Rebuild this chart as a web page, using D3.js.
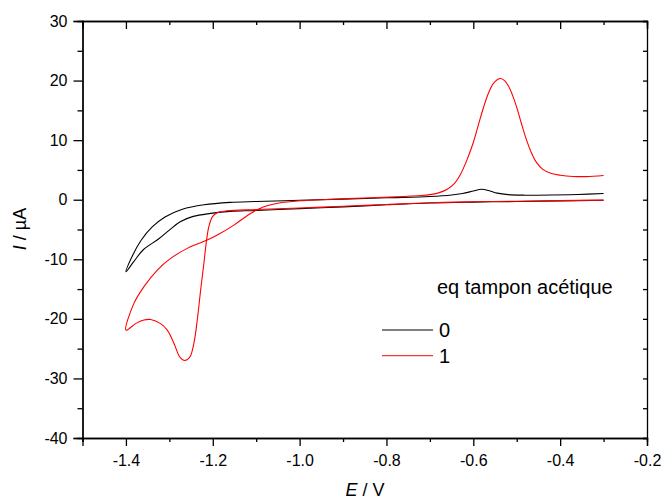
<!DOCTYPE html>
<html><head><meta charset="utf-8">
<script src="https://cdn.jsdelivr.net/npm/d3@7"></script>
<style>body{margin:0;background:#fff} text{font-family:Arial,"Liberation Sans",sans-serif;fill:#000}</style>
</head><body><svg id="c" width="662" height="499"></svg>
<script>
// Series 0 eq (black): forward (negative-going) then reverse sweep
const blackE = [-0.3,-0.4,-0.5,-0.6,-0.7,-0.8,-0.9,-1.0,-1.1,-1.16,-1.205,-1.245,-1.275,-1.3,-1.325,-1.36,-1.382,-1.4,
  -1.385,-1.365,-1.34,-1.31,-1.27,-1.22,-1.16,-1.1,-1.0,-0.9,-0.8,-0.7,-0.65,-0.625,-0.6,-0.581,-0.565,-0.545,-0.52,-0.48,-0.42,-0.36,-0.3];
const blackI = [-0.1,-0.2,-0.3,-0.4,-0.55,-0.85,-1.2,-1.5,-1.8,-1.95,-2.3,-2.8,-3.7,-5.1,-6.6,-8.4,-10.4,-12.1,
  -9.4,-6.8,-4.6,-2.9,-1.6,-0.85,-0.45,-0.3,-0.1,0.1,0.33,0.55,0.8,1.05,1.45,1.75,1.55,1.1,0.85,0.76,0.78,0.88,1.05];
// Series 1 eq (red)
const redE = [-0.3,-0.4,-0.5,-0.6,-0.7,-0.8,-0.9,-1.0,-1.1,-1.167,-1.19,-1.201,-1.209,-1.2143,-1.2205,-1.228,-1.2357,-1.2435,-1.2527,-1.265,-1.276,-1.2895,-1.3047,-1.32,-1.343,-1.3586,-1.3777,-1.4,
  -1.3816,-1.3586,-1.3277,-1.297,-1.2587,-1.2127,-1.1896,-1.1514,-1.113,-1.0824,-1.044,-0.998,-0.952,-0.85,-0.76,-0.72,-0.70,-0.68,-0.66,-0.645,-0.63,-0.615,-0.6,-0.587,-0.576,-0.565,-0.555,-0.545,-0.537,-0.528,-0.519,-0.51,-0.5,-0.49,-0.48,-0.468,-0.455,-0.44,-0.42,-0.3995,-0.37,-0.34,-0.3];
const redI = [-0.07,-0.15,-0.25,-0.35,-0.5,-0.8,-1.1,-1.4,-1.65,-1.86,-2.2,-2.87,-4.5,-6.78,-10.7,-15.2,-20.2,-24.1,-26.4,-27.0,-26.4,-24.1,-21.9,-20.8,-20.1,-20.2,-20.8,-21.9,
  -17.4,-14.6,-11.8,-9.85,-8.17,-6.78,-5.94,-4.26,-2.3,-1.19,-0.52,-0.18,0.0,0.3,0.55,0.7,0.85,1.15,1.75,2.6,4.2,6.6,9.6,12.9,15.6,17.9,19.4,20.15,20.35,20.0,19.1,17.6,15.5,13.0,10.6,8.2,6.3,5.1,4.4,4.1,3.9,3.88,4.07];

const xTicks = [-1.4,-1.2,-1.0,-0.8,-0.6,-0.4,-0.2];
const xMinor = [-1.5,-1.3,-1.1,-0.9,-0.7,-0.5,-0.3];
const yTicks = [-40,-30,-20,-10,0,10,20,30];
const yMinor = [-35,-25,-15,-5,5,15,25];
const legendTitle = "eq tampon acétique";
const legendLabels = ["0","1"];
const colors = ["#000000","#ff0000"];

const L=82.5, R=647, T=21, B=438;
const svg = d3.select("#c");
const x = d3.scaleLinear().domain([-1.5,-0.2]).range([L,R]);
const y = d3.scaleLinear().domain([-40,30]).range([B,T]);

function styleAxis(g){
  g.selectAll("path").attr("stroke","#000").attr("stroke-width",1.3);
  g.selectAll("line").attr("stroke","#000").attr("stroke-width",1.3);
  g.selectAll("text").attr("font-size",16).attr("font-family","Arial, 'Liberation Sans', sans-serif").attr("fill","#000");
}
// bottom
svg.append("g").attr("transform",`translate(0,${B})`)
  .call(d3.axisBottom(x).tickValues(xTicks).tickSize(8).tickPadding(9).tickFormat(d=>d.toFixed(1)))
  .call(styleAxis);
svg.append("g").attr("transform",`translate(0,${B})`)
  .call(d3.axisBottom(x).tickValues(xMinor).tickSize(4).tickFormat(""))
  .call(styleAxis);
// top
svg.append("g").attr("transform",`translate(0,${T})`)
  .call(d3.axisTop(x).tickValues(xTicks).tickSize(-8).tickFormat(""))
  .call(styleAxis);
svg.append("g").attr("transform",`translate(0,${T})`)
  .call(d3.axisTop(x).tickValues(xMinor).tickSize(-4).tickFormat(""))
  .call(styleAxis);
// left
svg.append("g").attr("transform",`translate(${L},0)`)
  .call(d3.axisLeft(y).tickValues(yTicks).tickSize(9).tickPadding(6).tickFormat(d=>String(d)))
  .call(styleAxis);
svg.append("g").attr("transform",`translate(${L},0)`)
  .call(d3.axisLeft(y).tickValues(yMinor).tickSize(5).tickFormat(""))
  .call(styleAxis);
// right
svg.append("g").attr("transform",`translate(${R},0)`)
  .call(d3.axisRight(y).tickValues(yTicks.concat(yMinor)).tickSize(-4).tickFormat(""))
  .call(styleAxis);

// curves
const series = [{E:blackE,I:blackI,c:colors[0]},{E:redE,I:redI,c:colors[1]}];
const line = d3.line().x(d=>x(d[0])).y(d=>y(d[1])).curve(d3.curveCatmullRom.alpha(0.5));
series.forEach(s=>{
  const pts = s.E.map((e,i)=>[e,s.I[i]]);
  svg.append("path").attr("d",line(pts)).attr("fill","none").attr("stroke",s.c).attr("stroke-width",1.1);
});

// axis titles
const xt = svg.append("text").attr("x",365).attr("y",496).attr("text-anchor","middle").attr("font-size",18);
xt.append("tspan").attr("font-style","italic").text("E");
xt.append("tspan").text(" / V");
const yt = svg.append("text").attr("transform","translate(26,229) rotate(-90)").attr("text-anchor","middle").attr("font-size",18);
yt.append("tspan").attr("font-style","italic").text("I");
yt.append("tspan").text(" / µA");

// legend
svg.append("text").attr("x",437).attr("y",294).attr("font-size",20).text(legendTitle);
legendLabels.forEach((lab,i)=>{
  const yy = 330 + i*25.7;
  svg.append("line").attr("x1",382).attr("x2",433).attr("y1",yy).attr("y2",yy).attr("stroke",colors[i]).attr("stroke-width",1);
  svg.append("text").attr("x",439).attr("y",yy).attr("dy","0.36em").attr("font-size",20).text(lab);
});
</script></body></html>
